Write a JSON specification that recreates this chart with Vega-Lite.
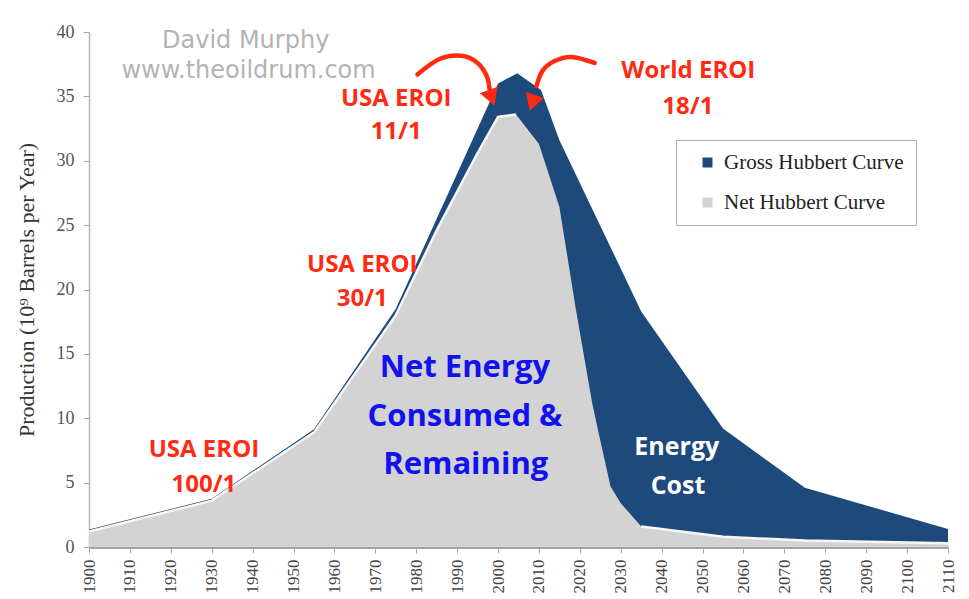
{
  "$schema": "https://vega.github.io/schema/vega-lite/v6.json",
  "width": 859,
  "height": 515,
  "autosize": "none",
  "padding": {"left": 89, "top": 32, "right": 21, "bottom": 52},
  "background": "white",
  "config": {"view": {"stroke": null}},
  "datasets": {
    "gross": [
      {"year": 1900, "value": 1.35},
      {"year": 1930, "value": 3.75},
      {"year": 1955, "value": 9.15},
      {"year": 1975, "value": 18.5},
      {"year": 2000, "value": 36.0},
      {"year": 2004.7, "value": 36.8},
      {"year": 2010.5, "value": 35.5},
      {"year": 2015, "value": 31.6},
      {"year": 2035, "value": 18.3},
      {"year": 2055, "value": 9.2},
      {"year": 2075, "value": 4.6},
      {"year": 2110, "value": 1.4}
    ],
    "net": [
      {"year": 1900, "value": 1.2},
      {"year": 1930, "value": 3.6},
      {"year": 1955, "value": 8.9},
      {"year": 1975, "value": 18.0},
      {"year": 1985, "value": 24.6},
      {"year": 1995, "value": 30.6},
      {"year": 2000, "value": 33.4},
      {"year": 2004.4, "value": 33.6},
      {"year": 2010, "value": 31.3},
      {"year": 2015, "value": 26.4},
      {"year": 2019, "value": 18.5},
      {"year": 2023, "value": 11.2},
      {"year": 2024.5, "value": 9.0},
      {"year": 2027.5, "value": 4.7},
      {"year": 2030, "value": 3.4},
      {"year": 2035, "value": 1.6},
      {"year": 2055, "value": 0.8},
      {"year": 2075, "value": 0.5},
      {"year": 2110, "value": 0.3}
    ],
    "labels": [
      {"kind": "gray", "label": "David Murphy", "year": 1938.3, "value": 39.3},
      {"kind": "gray", "label": "www.theoildrum.com", "year": 1939.0, "value": 37.0},
      {"kind": "red", "label": "USA EROI", "year": 1975.1, "value": 34.8},
      {"kind": "red", "label": "11/1", "year": 1975.1, "value": 32.2},
      {"kind": "red", "label": "World EROI", "year": 2046.5, "value": 37.0},
      {"kind": "red", "label": "18/1", "year": 2046.4, "value": 34.2},
      {"kind": "red", "label": "USA EROI", "year": 1966.8, "value": 21.9},
      {"kind": "red", "label": "30/1", "year": 1966.8, "value": 19.3},
      {"kind": "red", "label": "USA EROI", "year": 1928.1, "value": 7.5},
      {"kind": "red", "label": "100/1", "year": 1928.1, "value": 4.8},
      {"kind": "blue", "label": "Net Energy", "year": 1991.9, "value": 13.9},
      {"kind": "blue", "label": "Consumed &", "year": 1991.9, "value": 10.1},
      {"kind": "blue", "label": "Remaining", "year": 1992.1, "value": 6.4},
      {"kind": "white", "label": "Energy", "year": 2043.7, "value": 7.8},
      {"kind": "white", "label": "Cost", "year": 2044.0, "value": 4.7}
    ],
    "arrows": [
      {"arrow": "a1", "seq": 1, "year": 1980.3, "value": 36.7},
      {"arrow": "a1", "seq": 2, "year": 1985.7, "value": 37.9},
      {"arrow": "a1", "seq": 3, "year": 1991.0, "value": 38.15},
      {"arrow": "a1", "seq": 4, "year": 1995.0, "value": 37.6},
      {"arrow": "a1", "seq": 5, "year": 1997.2, "value": 36.6},
      {"arrow": "a1", "seq": 6, "year": 1997.9, "value": 35.6},
      {"arrow": "a2", "seq": 1, "year": 2023.6, "value": 37.6},
      {"arrow": "a2", "seq": 2, "year": 2018.0, "value": 38.06},
      {"arrow": "a2", "seq": 3, "year": 2013.8, "value": 37.75},
      {"arrow": "a2", "seq": 4, "year": 2010.9, "value": 37.0},
      {"arrow": "a2", "seq": 5, "year": 2009.4, "value": 35.8}
    ],
    "heads": [
      {"arrow": "a1", "year": 1998.4, "value": 34.9},
      {"arrow": "a2", "year": 2008.4, "value": 34.5}
    ]
  },
  "layer": [
    {
      "data": {"name": "gross"},
      "mark": {"type": "area"},
      "encoding": {
        "x": {
          "field": "year", "type": "quantitative",
          "scale": {"domain": [1900, 2110], "nice": false, "zero": false},
          "axis": {
            "values": [1900,1905,1910,1915,1920,1925,1930,1935,1940,1945,1950,1955,1960,1965,1970,1975,1980,1985,1990,1995,2000,2005,2010,2015,2020,2025,2030,2035,2040,2045,2050,2055,2060,2065,2070,2075,2080,2085,2090,2095,2100,2105,2110],
            "format": "d",
            "labelExpr": "datum.value % 10 === 0 ? datum.label : ''",
            "labelAngle": -90,
            "labelFont": "Liberation Serif",
            "labelFontSize": 17,
            "labelColor": "#444",
            "labelPadding": 6,
            "labelOverlap": false,
            "labelBound": false,
            "labelFlush": false,
            "tickColor": "#aaa",
            "tickSize": 6,
            "domainColor": "#a5a5a5",
            "domainWidth": 3,
            "grid": false,
            "title": null
          }
        },
        "y": {
          "field": "value", "type": "quantitative",
          "scale": {"domain": [0, 40], "nice": false},
          "axis": {
            "values": [0,5,10,15,20,25,30,35,40],
            "labelFont": "Liberation Serif",
            "labelFontSize": 18,
            "labelColor": "#555",
            "labelPadding": 9,
            "tickColor": "#aaa",
            "tickSize": 6,
            "domainColor": "#b5b5b5",
            "domainWidth": 1.5,
            "grid": false,
            "title": "Production (10⁹ Barrels per Year)",
            "titleFont": "Liberation Serif",
            "titleFontSize": 22,
            "titleFontWeight": "normal",
            "titleColor": "#333",
            "titlePadding": 18
          }
        },
        "color": {
          "datum": "Gross Hubbert Curve",
          "type": "nominal",
          "scale": {"domain": ["Gross Hubbert Curve", "Net Hubbert Curve"], "range": ["#1d4a7a", "#d3d3d3"]},
          "legend": {
            "orient": "none",
            "legendX": 587,
            "legendY": 108,
            "title": null,
            "fillColor": "white",
            "strokeColor": "#b0b0b0",
            "padding": 12,
            "symbolType": "square",
            "symbolSize": 100,
            "symbolStrokeWidth": 0,
            "symbolOffset": 9,
            "labelFont": "Liberation Serif",
            "labelFontSize": 21,
            "labelColor": "#222",
            "labelOffset": 6,
            "labelLimit": 400,
            "rowPadding": 18
          }
        }
      }
    },
    {
      "data": {"name": "net"},
      "mark": {"type": "area"},
      "encoding": {
        "x": {"field": "year", "type": "quantitative"},
        "y": {"field": "value", "type": "quantitative"},
        "color": {"datum": "Net Hubbert Curve", "type": "nominal"}
      }
    },
    {
      "data": {"name": "net"},
      "transform": [{"filter": "datum.year <= 2005"}],
      "mark": {"type": "line", "color": "#f6f6f6", "strokeWidth": 2.5},
      "encoding": {
        "x": {"field": "year", "type": "quantitative"},
        "y": {"field": "value", "type": "quantitative"}
      }
    },
    {
      "data": {"name": "net"},
      "transform": [{"filter": "datum.year >= 2034"}],
      "mark": {"type": "line", "color": "#f6f6f6", "strokeWidth": 2.5},
      "encoding": {
        "x": {"field": "year", "type": "quantitative"},
        "y": {"field": "value", "type": "quantitative"}
      }
    },
    {
      "data": {"name": "arrows"},
      "mark": {"type": "line", "color": "#ff2a12", "strokeWidth": 4.5, "interpolate": "cardinal", "strokeCap": "round"},
      "encoding": {
        "x": {"field": "year", "type": "quantitative"},
        "y": {"field": "value", "type": "quantitative"},
        "detail": {"field": "arrow", "type": "nominal"},
        "order": {"field": "seq", "type": "quantitative"}
      }
    },
    {
      "data": {"name": "heads"},
      "transform": [{"filter": "datum.arrow === 'a1'"}],
      "mark": {"type": "point", "shape": "triangle-down", "filled": true, "size": 360, "color": "#ff2a12", "opacity": 1, "angle": -20},
      "encoding": {
        "x": {"field": "year", "type": "quantitative"},
        "y": {"field": "value", "type": "quantitative"}
      }
    },
    {
      "data": {"name": "heads"},
      "transform": [{"filter": "datum.arrow === 'a2'"}],
      "mark": {"type": "point", "shape": "triangle-down", "filled": true, "size": 360, "color": "#ff2a12", "opacity": 1, "angle": 18},
      "encoding": {
        "x": {"field": "year", "type": "quantitative"},
        "y": {"field": "value", "type": "quantitative"}
      }
    },
    {
      "data": {"name": "labels"},
      "transform": [{"filter": "datum.kind === 'gray'"}],
      "mark": {"type": "text", "font": "DejaVu Sans", "fontSize": 24, "color": "#b3b3b3", "baseline": "middle", "align": "center"},
      "encoding": {
        "x": {"field": "year", "type": "quantitative"},
        "y": {"field": "value", "type": "quantitative"},
        "text": {"field": "label"}
      }
    },
    {
      "data": {"name": "labels"},
      "transform": [{"filter": "datum.kind === 'red'"}],
      "mark": {"type": "text", "font": "Open Sans", "fontWeight": "bold", "fontSize": 24, "color": "#ff2a12", "baseline": "middle", "align": "center"},
      "encoding": {
        "x": {"field": "year", "type": "quantitative"},
        "y": {"field": "value", "type": "quantitative"},
        "text": {"field": "label"}
      }
    },
    {
      "data": {"name": "labels"},
      "transform": [{"filter": "datum.kind === 'blue'"}],
      "mark": {"type": "text", "font": "Open Sans", "fontWeight": "bold", "fontSize": 31, "color": "#1212ee", "baseline": "middle", "align": "center"},
      "encoding": {
        "x": {"field": "year", "type": "quantitative"},
        "y": {"field": "value", "type": "quantitative"},
        "text": {"field": "label"}
      }
    },
    {
      "data": {"name": "labels"},
      "transform": [{"filter": "datum.kind === 'white'"}],
      "mark": {"type": "text", "font": "Open Sans", "fontWeight": "bold", "fontSize": 25, "color": "#ffffff", "baseline": "middle", "align": "center"},
      "encoding": {
        "x": {"field": "year", "type": "quantitative"},
        "y": {"field": "value", "type": "quantitative"},
        "text": {"field": "label"}
      }
    }
  ]
}
